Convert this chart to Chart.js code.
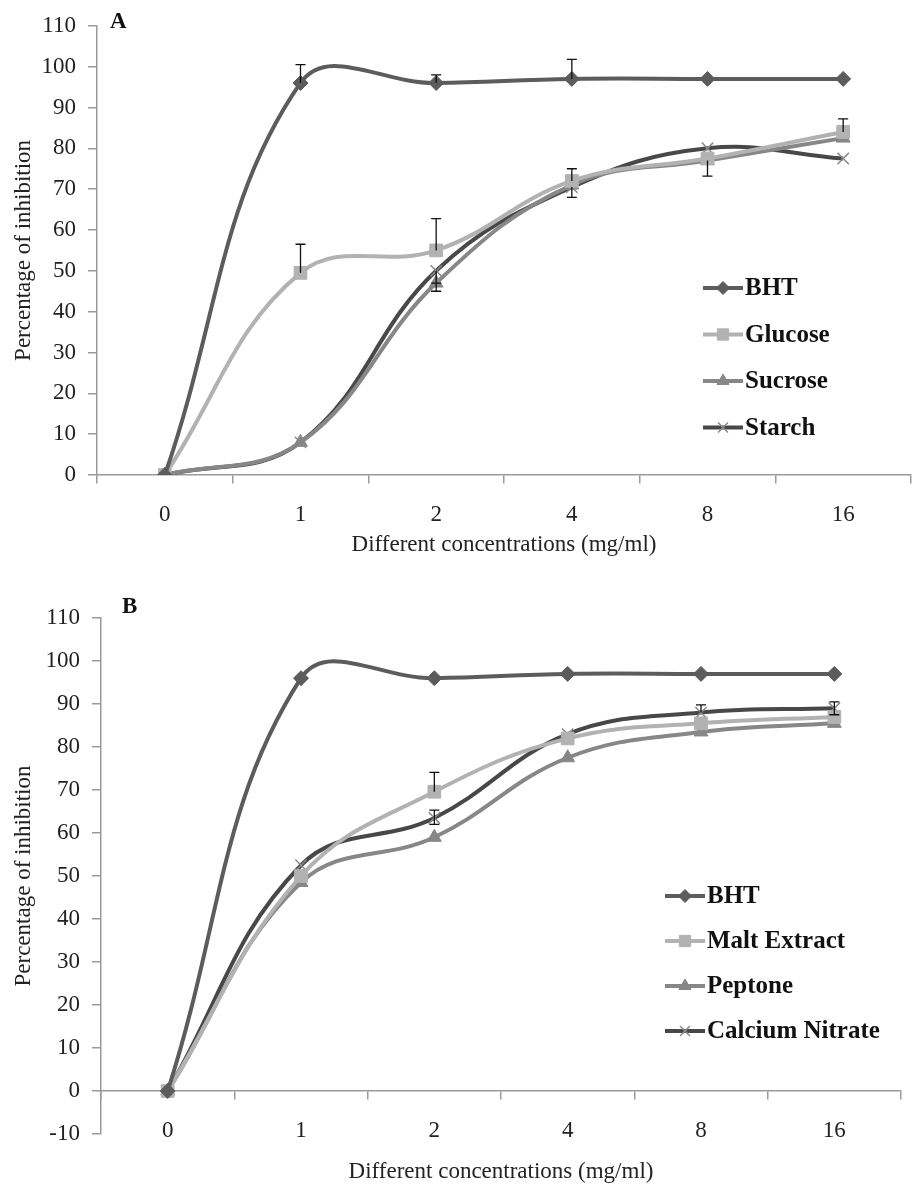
<!DOCTYPE html>
<html>
<head>
<meta charset="utf-8">
<script src="https://cdn.jsdelivr.net/npm/chart.js@4.4.0/dist/chart.umd.min.js"></script>
<style>
  body { margin: 0; background: #fff; width: 921px; height: 1186px; position: relative; overflow: hidden; }
  canvas { position: absolute; left: 0; }
  .tag { position: absolute; font: bold 23px "Liberation Serif"; color: #111; line-height: 1; }
</style>
</head>
<body>
<canvas id="chartA" width="921" height="585" style="top:0"></canvas>
<canvas id="chartB" width="921" height="601" style="top:585px"></canvas>
<div class="tag" style="left:110px;top:9px">A</div>
<div class="tag" style="left:122px;top:594px">B</div>
<script>
// x categories (mg/ml)
const concentrations = ['0', '1', '2', '4', '8', '16'];

// panel A
const bhtA    = [0, 96, 96, 97, 97, 97];
const glucose = [0, 49.5, 55, 72, 77.5, 84];
const sucrose = [0, 8, 47, 71, 77, 82.5];
const starch  = [0, 8, 50, 70.5, 80, 77.5];
const bhtAUp      = [0, 4.5, 2, 4.8, 0, 0];
const glucoseUp   = [0, 7, 7.8, 3, 0, 3.2];
const sucroseDown = [0, 0, 2, 0, 3.8, 0];
const starchDown  = [0, 0, 3, 2.5, 0, 0];

// panel B
const bhtB     = [0, 96, 96, 97, 97, 97];
const malt     = [0, 50, 69.6, 82, 85.5, 87];
const peptone  = [0, 48.5, 59, 77.5, 83.5, 85.5];
const calcium  = [0, 52.5, 63.5, 83, 88, 89];
const maltUp      = [0, 0, 4.5, 0, 0, 0];
const calciumUp   = [0, 0, 1.8, 0, 1.8, 1.5];
const calciumDown = [0, 0, 1.5, 0, 0, 1.5];

const serif = 'Liberation Serif';
const axisGray = '#9a9a9a';
const fontSize = 23;

function series(label, data, color, style, radius, extra) {
  return Object.assign({
    label: label,
    data: data,
    borderColor: color,
    backgroundColor: color,
    pointBackgroundColor: color,
    pointBorderColor: color,
    pointStyle: style,
    pointRadius: radius,
    pointHoverRadius: radius,
    pointBorderWidth: 1,
    borderWidth: 4,
    tension: 0.4
  }, extra || {});
}

const errorBars = {
  id: 'errorBars',
  afterDatasetsDraw(chart) {
    const ctx = chart.ctx, ys = chart.scales.y;
    ctx.save();
    ctx.strokeStyle = '#111';
    ctx.lineWidth = 1.3;
    chart.data.datasets.forEach((ds, i) => {
      const meta = chart.getDatasetMeta(i);
      meta.data.forEach((pt, j) => {
        [[ds.errUp, 1], [ds.errDown, -1]].forEach(([arr, s]) => {
          const e = arr ? arr[j] : 0;
          if (!e) return;
          const y1 = ys.getPixelForValue(ds.data[j] + s * e);
          ctx.beginPath();
          ctx.moveTo(pt.x, pt.y);
          ctx.lineTo(pt.x, y1);
          ctx.moveTo(pt.x - 5, y1);
          ctx.lineTo(pt.x + 5, y1);
          ctx.stroke();
        });
      });
    });
    ctx.restore();
  }
};

const sideLegend = {
  id: 'sideLegend',
  afterDraw(chart, args, opts) {
    const ctx = chart.ctx;
    ctx.save();
    chart.data.datasets.forEach((ds, i) => {
      const y = opts.top + i * opts.gap;
      ctx.strokeStyle = ds.borderColor;
      ctx.lineWidth = ds.borderWidth;
      ctx.beginPath();
      ctx.moveTo(opts.left, y);
      ctx.lineTo(opts.left + 40, y);
      ctx.stroke();
      ctx.fillStyle = ds.pointBackgroundColor;
      ctx.strokeStyle = ds.pointBorderColor;
      ctx.lineWidth = ds.pointBorderWidth;
      Chart.helpers.drawPoint(ctx, {
        pointStyle: ds.pointStyle, radius: ds.pointRadius - 1,
        borderWidth: ds.pointBorderWidth, rotation: 0
      }, opts.left + 20, y);
      ctx.fillStyle = '#111';
      ctx.font = 'bold 25px "' + serif + '"';
      ctx.textBaseline = 'middle';
      ctx.textAlign = 'left';
      ctx.fillText(ds.label, opts.left + 42, y + 1);
    });
    ctx.restore();
  }
};

function makeChart(id, datasets, yMin, yAxisWidth, pad, xAxisHeight, legend) {
  return new Chart(document.getElementById(id), {
    type: 'line',
    data: { labels: concentrations, datasets: datasets },
    plugins: [errorBars, sideLegend],
    options: {
      responsive: false,
      animation: false,
      layout: { padding: pad },
      plugins: {
        legend: { display: false },
        tooltip: { enabled: false },
        sideLegend: legend
      },
      scales: {
        x: {
          type: 'category',
          offset: true,
          position: { y: 0 },
          grid: { offset: true, drawOnChartArea: false, drawTicks: true, tickLength: 8, color: axisGray, lineWidth: 1.5 },
          border: { color: axisGray, width: 1.5 },
          ticks: { color: '#222', font: { family: serif, size: fontSize }, padding: 18, maxRotation: 0 },
          title: { display: true, text: 'Different concentrations (mg/ml)', color: '#222',
                   font: { family: serif, size: fontSize }, padding: 0 },
          afterFit: (s) => { s.height = xAxisHeight; }
        },
        y: {
          min: yMin,
          max: 110,
          ticks: { stepSize: 10, color: '#222', font: { family: serif, size: fontSize }, padding: 12 },
          grid: { drawOnChartArea: false, drawTicks: true, tickLength: 9, color: axisGray, lineWidth: 1.5 },
          border: { color: axisGray, width: 1.5 },
          title: { display: true, text: 'Percentage of inhibition', color: '#222',
                   font: { family: serif, size: fontSize }, padding: { top: 10, bottom: 0 } },
          afterFit: (s) => { s.width = yAxisWidth; }
        }
      }
    }
  });
}

makeChart('chartA', [
  series('BHT', bhtA, '#5c5c5c', 'rectRot', 7.5, { errUp: bhtAUp }),
  series('Glucose', glucose, '#b2b2b2', 'rect', 9, { errUp: glucoseUp }),
  series('Sucrose', sucrose, '#878787', 'triangle', 8, { errDown: sucroseDown }),
  series('Starch', starch, '#484848', 'crossRot', 8, { pointBorderColor: '#8a8a8a', pointBorderWidth: 1.5, errDown: starchDown })
], 0, 97, { top: 20, left: 0, right: 2, bottom: 110 }, 84, { left: 703, top: 288, gap: 46.5 });

makeChart('chartB', [
  series('BHT', bhtB, '#5c5c5c', 'rectRot', 7.5),
  series('Malt Extract', malt, '#b2b2b2', 'rect', 9, { errUp: maltUp }),
  series('Peptone', peptone, '#878787', 'triangle', 8),
  series('Calcium Nitrate', calcium, '#484848', 'crossRot', 8, { pointBorderColor: '#8a8a8a', pointBorderWidth: 1.5, errUp: calciumUp, errDown: calciumDown })
], -10, 101, { top: 33, left: 0, right: 20, bottom: 52 }, 95, { left: 665, top: 311, gap: 45 });
</script>
</body>
</html>
